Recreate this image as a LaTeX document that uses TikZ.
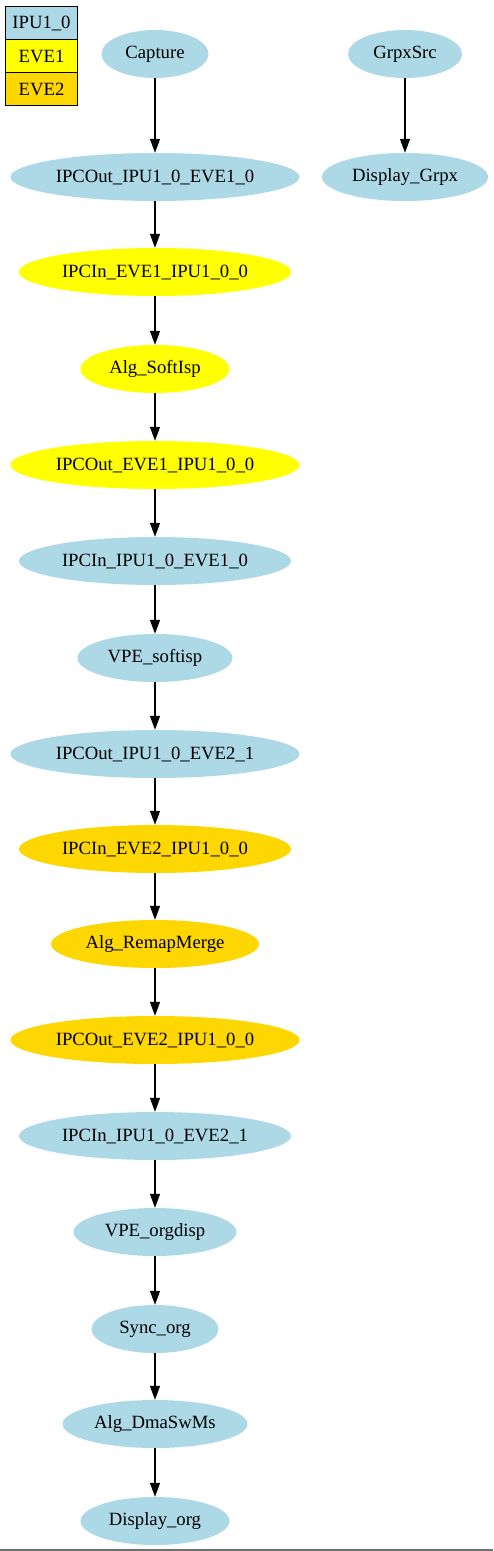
\documentclass[tikz,border=0pt]{standalone}
\usepackage{fontspec}
\setmainfont{Liberation Serif}
\usetikzlibrary{shapes.geometric,arrows.meta}
\definecolor{ipu}{HTML}{ADD8E6}
\definecolor{eveone}{HTML}{FFFF00}
\definecolor{evetwo}{HTML}{FFD700}
\definecolor{rulegray}{HTML}{707070}
\tikzset{
  gnode/.style={ellipse, inner sep=0pt, minimum height=48pt, font=\fontsize{18.7}{21}\selectfont, text=black},
  ipun/.style={gnode, fill=ipu},
  e1n/.style={gnode, fill=eveone},
  e2n/.style={gnode, fill=evetwo},
  flow/.style={draw=black, line width=1.3pt, -{Triangle[length=14pt,width=10pt]}},
  legcell/.style={draw=black, line width=1pt, minimum width=72pt, minimum height=33pt, inner sep=0pt, font=\fontsize{18.7}{21}\selectfont, anchor=north west}
}
\begin{document}
\begin{tikzpicture}[x=1pt,y=1pt]
\useasboundingbox (0,0) rectangle (493,-1551);
\fill[white] (0,0) rectangle (493,-1551);
% legend
\node[legcell, fill=ipu] (l1) at (5,-6) {IPU1\_0};
\node[legcell, fill=eveone] (l2) at (5,-39) {EVE1};
\node[legcell, fill=evetwo] (l3) at (5,-72) {EVE2};
% main chain
\node[ipun, minimum width=107pt] (n1) at (155,-54) {Capture};
\node[ipun, minimum width=289pt] (n2) at (155,-177) {IPCOut\_IPU1\_0\_EVE1\_0};
\node[e1n, minimum width=272pt] (n3) at (155,-272) {IPCIn\_EVE1\_IPU1\_0\_0};
\node[e1n, minimum width=149pt] (n4) at (155,-369) {Alg\_SoftIsp};
\node[e1n, minimum width=289pt] (n5) at (155,-465) {IPCOut\_EVE1\_IPU1\_0\_0};
\node[ipun, minimum width=272pt] (n6) at (155,-561) {IPCIn\_IPU1\_0\_EVE1\_0};
\node[ipun, minimum width=155pt] (n7) at (155,-658) {VPE\_softisp};
\node[ipun, minimum width=289pt] (n8) at (155,-754) {IPCOut\_IPU1\_0\_EVE2\_1};
\node[e2n, minimum width=272pt] (n9) at (155,-849) {IPCIn\_EVE2\_IPU1\_0\_0};
\node[e2n, minimum width=208pt] (n10) at (155,-944) {Alg\_RemapMerge};
\node[e2n, minimum width=289pt] (n11) at (155,-1040) {IPCOut\_EVE2\_IPU1\_0\_0};
\node[ipun, minimum width=272pt] (n12) at (155,-1136) {IPCIn\_IPU1\_0\_EVE2\_1};
\node[ipun, minimum width=163pt] (n13) at (155,-1232) {VPE\_orgdisp};
\node[ipun, minimum width=127pt] (n14) at (155,-1329) {Sync\_org};
\node[ipun, minimum width=185pt] (n15) at (155,-1424) {Alg\_DmaSwMs};
\node[ipun, minimum width=149pt] (n16) at (155,-1521) {Display\_org};
% side chain
\node[ipun, minimum width=114pt] (g1) at (405,-54) {GrpxSrc};
\node[ipun, minimum width=166pt] (g2) at (405,-177) {Display\_Grpx};
% edges
\foreach \a/\b in {n1/n2,n2/n3,n3/n4,n4/n5,n5/n6,n6/n7,n7/n8,n8/n9,n9/n10,n10/n11,n11/n12,n12/n13,n13/n14,n14/n15,n15/n16,g1/g2}
  \draw[flow] (\a) -- (\b);
% bottom rule
\coordinate (rl) at (0,-1550);
\coordinate (rr) at (493,-1550);
\draw[draw=rulegray, line width=1.6pt] (rl) -- (rr);
\end{tikzpicture}
\end{document}
